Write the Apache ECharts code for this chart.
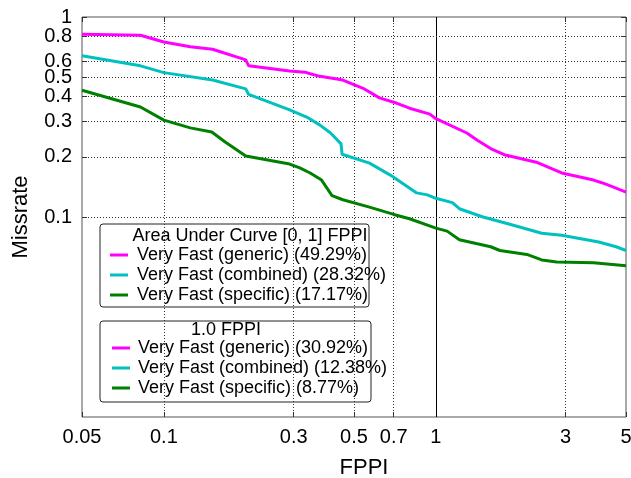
<!DOCTYPE html>
<html>
<head>
<meta charset="utf-8">
<script src="https://cdn.jsdelivr.net/npm/echarts@6/dist/echarts.min.js"></script>
<style>
  html, body { margin: 0; padding: 0; background: #fff; }
  #chart { width: 631px; height: 478px; }
</style>
</head>
<body>
<div id="chart"></div>
<script>
// curves (FPPI -> miss rate)
var fppiGeneric = [0.05, 0.082, 0.1, 0.125, 0.151, 0.2, 0.205, 0.29, 0.33, 0.345, 0.375, 0.455, 0.54, 0.62, 0.7, 0.8, 0.95, 1, 1.3, 1.42, 1.59, 1.8, 2.34, 2.9, 3.8, 4.1, 4.45, 5];
var missGeneric = [0.82, 0.81, 0.75, 0.71, 0.69, 0.61, 0.57, 0.537, 0.53, 0.52, 0.505, 0.484, 0.44, 0.394, 0.375, 0.35, 0.327, 0.31, 0.263, 0.242, 0.22, 0.204, 0.188, 0.166, 0.153, 0.148, 0.142, 0.133];

var fppiCombined = [0.05, 0.082, 0.1, 0.151, 0.2, 0.205, 0.29, 0.335, 0.375, 0.41, 0.448, 0.452, 0.57, 0.68, 0.85, 0.93, 1, 1.15, 1.22, 1.49, 1.87, 2.45, 2.9, 3.97, 4.6, 5];
var missCombined = [0.64, 0.57, 0.527, 0.484, 0.437, 0.41, 0.343, 0.316, 0.288, 0.263, 0.232, 0.206, 0.186, 0.162, 0.132, 0.129, 0.124, 0.118, 0.11, 0.1, 0.092, 0.083, 0.081, 0.075, 0.071, 0.068];

var fppiSpecific = [0.05, 0.082, 0.1, 0.125, 0.15, 0.168, 0.2, 0.29, 0.316, 0.345, 0.38, 0.415, 0.455, 0.57, 0.7, 0.8, 1, 1.1, 1.22, 1.59, 1.72, 2.16, 2.45, 2.78, 3.8, 5];
var missSpecific = [0.43, 0.355, 0.305, 0.279, 0.266, 0.237, 0.202, 0.184, 0.176, 0.166, 0.153, 0.128, 0.122, 0.112, 0.103, 0.098, 0.088, 0.085, 0.077, 0.071, 0.068, 0.065, 0.061, 0.0596, 0.059, 0.057];

var methodNames = ['Very Fast (generic)', 'Very Fast (combined)', 'Very Fast (specific)'];
var aucScores = ['49.29%', '28.32%', '17.17%'];
var scoresAt1 = ['30.92%', '12.38%', '8.77%'];
var colors = ['#ff00ff', '#00c0c0', '#008000'];

var xTicks = [0.05, 0.1, 0.3, 0.5, 0.7, 1, 3, 5];
var yTicks = [0.1, 0.2, 0.3, 0.4, 0.5, 0.6, 0.8, 1];

var FONT = '"Liberation Sans", Arial, sans-serif';

function zip(xs, ys) {
  return xs.map(function (x, i) { return [x, ys[i]]; });
}
function fmt(v) {
  return String(+(+v).toPrecision(3));
}

var curves = [zip(fppiGeneric, missGeneric), zip(fppiCombined, missCombined), zip(fppiSpecific, missSpecific)];

var series = curves.map(function (d, i) {
  return {
    name: methodNames[i],
    type: 'line',
    data: d,
    showSymbol: false,
    lineStyle: { color: colors[i], width: 3 },
    itemStyle: { color: colors[i] },
    z: 5 - i
  };
});

// dotted grid at the tick values + solid line at 1 FPPI
var gridLines = [];
xTicks.forEach(function (v) {
  if (v > 0.05 && v < 5) {
    gridLines.push({ xAxis: v, lineStyle: v === 1 ? { type: 'solid', color: '#000', width: 1 } : {} });
  }
});
yTicks.forEach(function (v) {
  if (v < 1) gridLines.push({ yAxis: v });
});
series[2].markLine = {
  silent: true,
  symbol: 'none',
  animation: false,
  z: 1,
  label: { show: false },
  lineStyle: { color: '#333', width: 1, type: [1, 2] },
  data: gridLines
};

// legend boxes
function legendBox(x, y, w, h, title, titleX, lineX, textX, rowY, values) {
  var kids = [{
    type: 'rect',
    shape: { x: x, y: y, width: w, height: h, r: 3 },
    style: { fill: '#fff', stroke: '#222', lineWidth: 1 }
  }, {
    type: 'text',
    style: { text: title, x: titleX, y: rowY[0], font: '18px ' + FONT, fill: '#000', textAlign: 'center', textVerticalAlign: 'middle' }
  }];
  methodNames.forEach(function (n, i) {
    var yy = rowY[i + 1];
    kids.push({
      type: 'line',
      shape: { x1: lineX, y1: yy, x2: lineX + 18, y2: yy },
      style: { stroke: colors[i], lineWidth: 3 }
    });
    kids.push({
      type: 'text',
      style: { text: n + ' (' + values[i] + ')', x: textX, y: yy, font: '18px ' + FONT, fill: '#000', textVerticalAlign: 'middle' }
    });
  });
  return { type: 'group', z: 100, children: kids };
}

var tickStyle = { show: true, inside: true, length: 5, lineStyle: { color: '#333', width: 1 } };
var labelStyle = { fontSize: 20, fontFamily: FONT, color: '#000', margin: 10, formatter: fmt, showMinLabel: true, showMaxLabel: true, hideOverlap: false };

function logY(extra) {
  return Object.assign({
    type: 'log',
    logBase: 10,
    min: 0.01,
    max: 1,
    axisLine: { show: false },
    splitLine: { show: false }
  }, extra);
}

var chart = echarts.init(document.getElementById('chart'));
chart.setOption({
  animation: false,
  backgroundColor: '#fff',
  grid: { left: 82, right: 5, top: 17, bottom: 61, show: true, borderColor: '#555', borderWidth: 1, outerBoundsMode: 'none', containLabel: false },
  xAxis: [{
    type: 'log',
    logBase: 10,
    min: 0.05,
    max: 5,
    name: 'FPPI',
    nameLocation: 'middle',
    nameGap: 40,
    nameTextStyle: { fontSize: 22, fontFamily: FONT, color: '#000', padding: [0, 0, 0, 20] },
    axisLine: { show: false },
    axisTick: Object.assign({ customValues: xTicks }, tickStyle),
    axisLabel: Object.assign({ customValues: xTicks }, labelStyle),
    splitLine: { show: false },
    minorTick: { show: false }
  }, {
    type: 'log',
    logBase: 10,
    min: 0.05,
    max: 5,
    position: 'top',
    axisLine: { show: false },
    axisTick: Object.assign({ customValues: xTicks }, tickStyle),
    axisLabel: { show: false, customValues: xTicks },
    splitLine: { show: false }
  }],
  yAxis: [
    logY({
      name: 'Missrate',
      nameLocation: 'middle',
      nameGap: 50,
      nameTextStyle: { fontSize: 22, fontFamily: FONT, color: '#000' },
      axisTick: Object.assign({ customValues: yTicks }, tickStyle),
      axisLabel: Object.assign({ customValues: yTicks.slice(0, -1) }, labelStyle)
    }),
    logY({
      position: 'right',
      axisTick: Object.assign({ customValues: yTicks }, tickStyle),
      axisLabel: { show: false, customValues: yTicks }
    }),
    // top label "1" on its own axis so the overlap check keeps 0.8
    logY({
      position: 'left',
      axisTick: { show: false },
      axisLabel: Object.assign({ customValues: yTicks.slice(-1) }, labelStyle)
    })
  ],
  series: series,
  graphic: [
    legendBox(100, 224, 269, 83, 'Area Under Curve [0, 1] FPPI', 250, 110, 137, [236, 255, 275, 295], aucScores),
    legendBox(100, 321, 271, 81, '1.0 FPPI', 226, 112, 138, [330, 348, 368, 388], scoresAt1)
  ]
});
</script>
</body>
</html>
